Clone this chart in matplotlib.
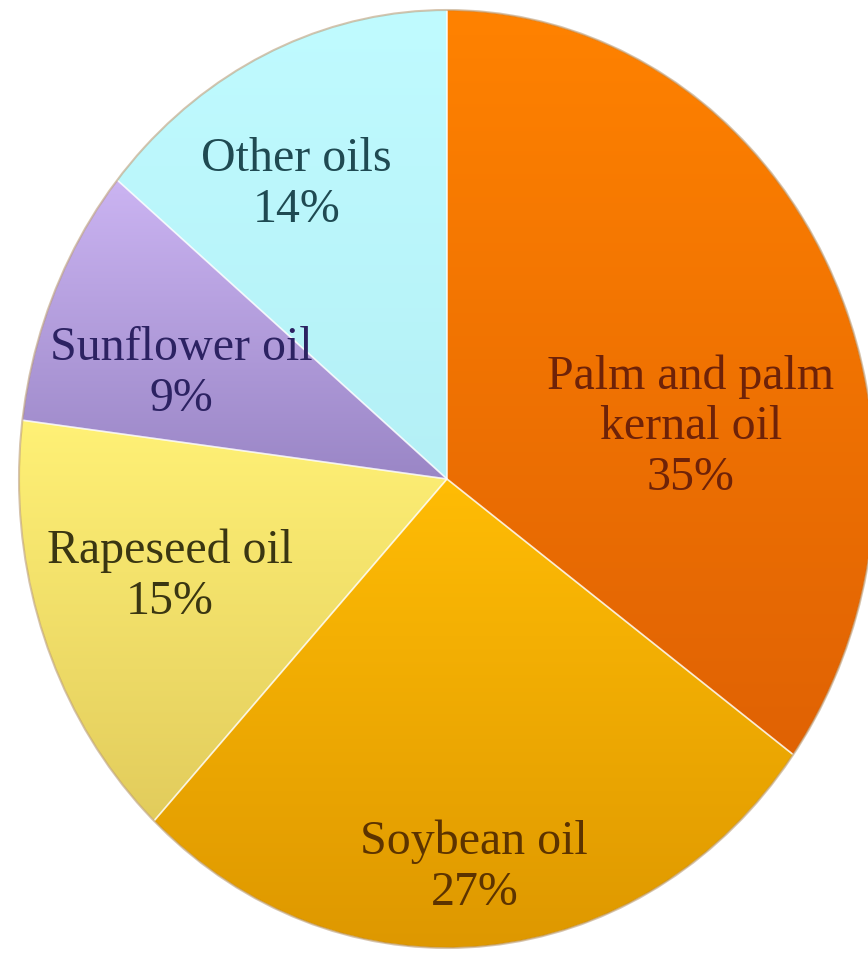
import numpy as np
import matplotlib.pyplot as plt
from matplotlib.colors import LinearSegmentedColormap

# world vegetable oil production by type
oils = ['Palm and palm\nkernal oil', 'Soybean oil', 'Rapeseed oil', 'Sunflower oil', 'Other oils']
shares = [35, 27, 15, 9, 14]

# light (top) and dark (bottom) end of each slice's gradient
top_colors = ['#ff8200', '#ffbc05', '#fff176', '#cbb4f2', '#c0fbff']
bottom_colors = ['#e06204', '#de9800', '#e2cc5c', '#9a86c6', '#b4f0f6']
text_colors = ['#6e2208', '#5c3300', '#3a3612', '#2c2262', '#1f4a52']

# label placement: distance from centre and turn away from the slice middle
label_dist = [0.58, 0.83, 0.68, 0.66, 0.72]
label_turn = [-16, -1, -2, 3.5, 4]

fig = plt.figure(figsize=(8.68, 9.57), dpi=100)
ax = fig.add_axes([0, 0, 1, 1])

wedges, _ = ax.pie(shares, startangle=90, counterclock=False, radius=1.0,
                   wedgeprops=dict(linewidth=1.2, edgecolor=(1, 1, 1, 0.55)))

grad = np.linspace(0, 1, 256).reshape(-1, 1)
for w, c_top, c_bot in zip(wedges, top_colors, bottom_colors):
    bb = w.get_path().get_extents()
    cmap = LinearSegmentedColormap.from_list('shade', [c_bot, c_top])
    im = ax.imshow(grad, cmap=cmap, origin='lower', aspect='auto',
                   extent=(bb.x0, bb.x1, bb.y0, bb.y1), zorder=1,
                   interpolation='bilinear')
    im.set_clip_path(w)
    w.set_facecolor('none')
    w.set_zorder(2)

# thin darker rim round the outside
rim = plt.Circle((0, 0), 1.0, fill=False, lw=1.5, ec=(0.55, 0.35, 0.1, 0.35), zorder=3)
ax.add_patch(rim)

for w, name, share, col, d, turn in zip(wedges, oils, shares, text_colors, label_dist, label_turn):
    mid = np.deg2rad((w.theta1 + w.theta2) / 2 + turn)
    ax.text(d * np.cos(mid), d * np.sin(mid), f'{name}\n{share}%',
            ha='center', va='center', color=col, fontsize=34.5,
            family='Liberation Serif', linespacing=1.2, zorder=4)

# slightly taller than wide, centred off to the left
cx, cy, rx, ry = 447, 479, 428, 469
ax.set_aspect('auto')
ax.set_xlim(-cx / rx, (868 - cx) / rx)
ax.set_ylim(-(957 - cy) / ry, cy / ry)
ax.axis('off')

fig.savefig('out.png', dpi=100, facecolor='white')
